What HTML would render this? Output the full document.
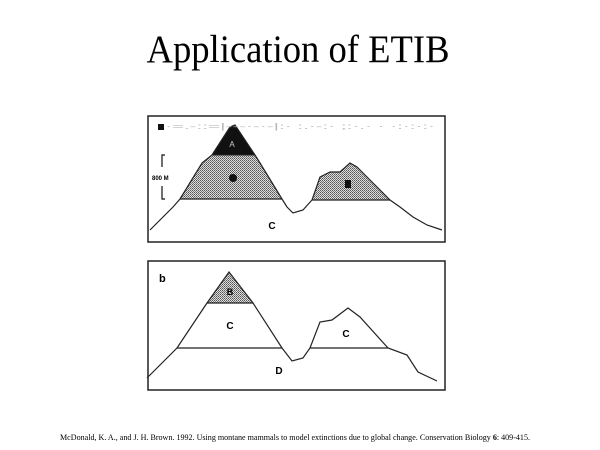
<!DOCTYPE html>
<html><head><meta charset="utf-8"><style>
html,body{margin:0;padding:0;background:#fff;}
svg{display:block;}
</style></head><body>
<svg width="600" height="450" viewBox="0 0 600 450" xmlns="http://www.w3.org/2000/svg">
<defs>
<pattern id="dots" width="2" height="2" patternUnits="userSpaceOnUse">
<rect width="2" height="2" fill="#ddd"/><rect width="1" height="1" fill="#555"/><rect x="1" y="1" width="1" height="1" fill="#777"/>
</pattern>
</defs>
<text x="298" y="62" font-family="Liberation Serif, serif" font-size="39" text-anchor="middle" textLength="303" lengthAdjust="spacingAndGlyphs">Application of ETIB</text>

<!-- panel a -->
<rect x="148" y="116" width="297" height="126" fill="none" stroke="#222" stroke-width="1.5"/>
<polygon points="180,199 202,163 212,155 230,127 235,125 255,155 260,163 282,199" fill="url(#dots)"/>
<polygon points="312,200 320,177 330,172 340,172 350,163 357,167 370,180 390,200" fill="url(#dots)"/>
<polygon points="212,155 230,127 235,125 255,155" fill="#111"/>
<polyline points="150,230 173,207 180,199 202,163 212,155 230,127 235,125 255,155 260,163 282,199 287,207 293,213 303,210 312,200 320,177 330,172 340,172 350,163 357,167 370,180 390,200 400,207 413,217 427,225 442,230" fill="none" stroke="#222" stroke-width="1.2"/>
<line x1="180" y1="199" x2="282" y2="199" stroke="#222" stroke-width="1.2"/>
<line x1="312" y1="200" x2="390" y2="200" stroke="#222" stroke-width="1.2"/>
<line x1="212" y1="155" x2="255" y2="155" stroke="#222"/>
<rect x="158" y="124" width="6" height="6" fill="#111"/>
<text x="165" y="129" font-family="Liberation Sans, sans-serif" font-size="8" fill="#bbb" textLength="270" lengthAdjust="spacingAndGlyphs">·=.-::=|---·-·-|:· :.·-:· ;:·.· ·  ·:·:·:·</text>
<text x="232" y="147" font-family="Liberation Sans, sans-serif" font-size="8" fill="#ccc" text-anchor="middle">A</text>
<circle cx="233" cy="178" r="4" fill="#111"/>
<rect x="345" y="180" width="6" height="8" fill="#111"/>
<path d="M165,155 h-3 v12 M162,186 v13 h3" fill="none" stroke="#111" stroke-width="1.2"/>
<text x="152" y="180" font-family="Liberation Sans, sans-serif" font-size="6" font-weight="bold">800 M</text>
<text x="272" y="229" font-family="Liberation Sans, sans-serif" font-size="10" font-weight="bold" text-anchor="middle">C</text>

<!-- panel b -->
<rect x="148" y="261" width="297" height="129" fill="none" stroke="#222" stroke-width="1.5"/>
<polygon points="207,303 229,272 253,303" fill="url(#dots)"/>
<polyline points="147,378 177,348 207,303 229,272 253,303 282,348 292,361 303,358 310,348 320,322 332,320 348,308 360,317 388,348 407,355 418,372 437,381" fill="none" stroke="#222" stroke-width="1.2"/>
<line x1="207" y1="303" x2="253" y2="303" stroke="#222" stroke-width="1.2"/>
<line x1="177" y1="348" x2="282" y2="348" stroke="#222" stroke-width="1.2"/>
<line x1="310" y1="348" x2="388" y2="348" stroke="#222" stroke-width="1.2"/>
<text x="159" y="282" font-family="Liberation Sans, sans-serif" font-size="11" font-weight="bold">b</text>
<text x="230" y="295" font-family="Liberation Sans, sans-serif" font-size="9" font-weight="bold" text-anchor="middle">B</text>
<text x="230" y="329" font-family="Liberation Sans, sans-serif" font-size="10" font-weight="bold" text-anchor="middle">C</text>
<text x="346" y="337" font-family="Liberation Sans, sans-serif" font-size="10" font-weight="bold" text-anchor="middle">C</text>
<text x="279" y="374" font-family="Liberation Sans, sans-serif" font-size="10" font-weight="bold" text-anchor="middle">D</text>

<text x="60" y="440" font-family="Liberation Serif, serif" font-size="8.5" textLength="470" lengthAdjust="spacingAndGlyphs">McDonald, K. A., and J. H. Brown. 1992. Using montane mammals to model extinctions due to global change. Conservation Biology <tspan font-weight="bold">6</tspan>: 409-415.</text>
</svg>
</body></html>
